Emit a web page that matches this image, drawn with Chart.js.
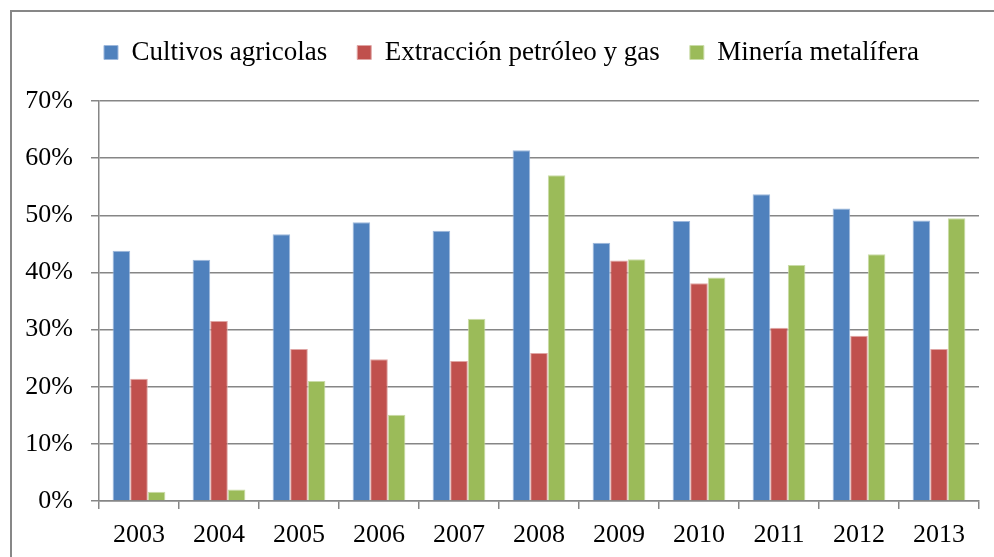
<!DOCTYPE html>
<html lang="es">
<head>
<meta charset="UTF-8">
<title>Cultivos, petróleo y minería</title>
<script src="https://cdn.jsdelivr.net/npm/chart.js"></script>
<style>
    body { margin: 0; padding: 0; background: #fff; }
    .wrap { position: relative; width: 994px; height: 557px; }
    .frame { position: absolute; left: 10px; top: 10px; right: -5px; bottom: -5px; border-left: 2px solid #878787; border-top: 2px solid #878787; pointer-events: none; }
    canvas { position: absolute; left: 0; top: 0; }
</style>
</head>
<body>
<div class="wrap">
    <canvas id="chart" width="994" height="557"></canvas>
    <div class="frame"></div>
</div>
<script>
    const years = ['2003', '2004', '2005', '2006', '2007', '2008', '2009', '2010', '2011', '2012', '2013'];
    const cultivos = [43.8, 42.2, 46.7, 48.8, 47.3, 61.4, 45.2, 49.0, 53.7, 51.2, 49.1];
    const petroleo = [21.4, 31.5, 26.6, 24.8, 24.5, 25.9, 42.1, 38.1, 30.3, 28.9, 26.6];
    const mineria = [1.6, 2.0, 21.0, 15.1, 31.9, 57.0, 42.3, 39.1, 41.3, 43.2, 49.5];

    const serif = 'Liberation Serif';
    const gridGray = '#868686';

    // legend block: fixed height so the plot starts at y=101, shifted a bit right like the original
    const legendBox = {
        id: 'legendBox',
        beforeLayout(chart) {
            const lg = chart.legend;
            if (lg && !lg._patched) {
                const fit = lg.fit;
                lg.fit = function () { fit.call(this); this.height = 92; };
                lg._patched = true;
            }
        },
        afterLayout(chart) {
            chart.legend.left += 17;
            chart.legend.right += 17;
        }
    };

    new Chart(document.getElementById('chart'), {
        type: 'bar',
        data: {
            labels: years,
            datasets: [
                { label: 'Cultivos agricolas', data: cultivos, backgroundColor: '#4F81BD', borderColor: '#9DB8DC', borderWidth: 1 },
                { label: 'Extracción petróleo y gas', data: petroleo, backgroundColor: '#C0504D', borderColor: '#DFA5A4', borderWidth: 1 },
                { label: 'Minería metalífera', data: mineria, backgroundColor: '#9BBB59', borderColor: '#CADCA8', borderWidth: 1 }
            ]
        },
        options: {
            responsive: false,
            animation: false,
            layout: { padding: { left: 10, right: 15, top: 9, bottom: 0 } },
            datasets: { bar: { categoryPercentage: 0.66, barPercentage: 1.0 } },
            plugins: {
                tooltip: { enabled: false },
                legend: {
                    position: 'top',
                    labels: {
                        boxWidth: 14, boxHeight: 14, padding: 30,
                        color: '#000',
                        font: { family: serif, size: 27 }
                    }
                }
            },
            scales: {
                x: {
                    grid: { display: true, drawOnChartArea: false, offset: true, color: gridGray, lineWidth: 1.5, tickLength: 8 },
                    border: { color: gridGray, width: 1.5 },
                    ticks: { color: '#000', padding: 11, font: { family: serif, size: 26 }, maxRotation: 0 },
                    afterFit: s => { s.height = 56; }
                },
                y: {
                    min: 0, max: 70,
                    grid: { color: gridGray, lineWidth: 1.5, tickLength: 8 },
                    border: { color: gridGray, width: 1.5 },
                    ticks: { stepSize: 10, color: '#000', padding: 18, font: { family: serif, size: 26 }, callback: v => v + '%' },
                    afterFit: s => { s.width = 89; }
                }
            }
        },
        plugins: [legendBox]
    });
</script>
</body>
</html>
